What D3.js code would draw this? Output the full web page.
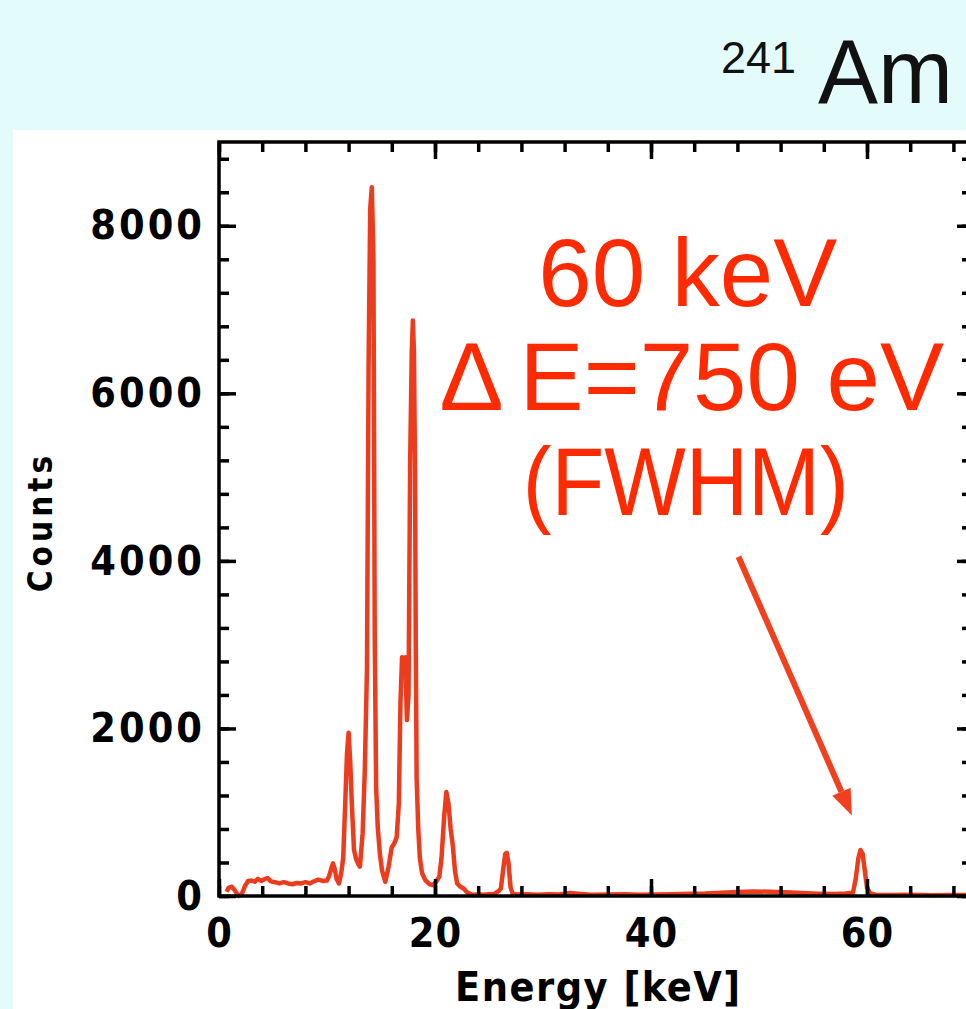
<!DOCTYPE html>
<html>
<head>
<meta charset="utf-8">
<script src="https://cdn.jsdelivr.net/npm/d3@7"></script>
<style>
  body { margin: 0; background: #e4fbfc; }
  .lab { font-family: "DejaVu Sans Condensed", "DejaVu Sans", sans-serif; font-weight: bold; font-stretch: condensed; fill: #000; }
  .note { font-family: "Liberation Sans", Arial, sans-serif; fill: #ff2a00; }
</style>
</head>
<body>
<div id="chart"></div>
<script>
// 241Am spectrum
var energy = [0.7, 0.9, 1.2, 1.5, 1.8, 2.1, 2.4, 2.7, 3.0, 3.3, 3.6, 3.9, 4.2, 4.5, 4.8, 5.2, 5.6, 6.0, 6.4, 6.8,
  7.2, 7.6, 8.0, 8.4, 8.8, 9.2, 9.6, 10.0, 10.2, 10.4, 10.55, 10.7, 10.9, 11.1, 11.3, 11.5, 11.7, 11.85, 12.0, 12.15,
  12.3, 12.5, 12.7, 12.9, 13.05, 13.3, 13.5, 13.7, 13.85, 14.0, 14.15, 14.3, 14.42, 14.55, 14.7, 14.9, 15.1, 15.4, 15.7, 16.0,
  16.2, 16.45, 16.65, 16.8, 16.95, 17.1, 17.25, 17.4, 17.55, 17.7, 17.85, 17.95, 18.05, 18.15, 18.22, 18.3, 18.45, 18.6, 18.8, 19.1,
  19.5, 19.8, 20.1, 20.4, 20.6, 20.85, 21.05, 21.25, 21.45, 21.65, 21.85, 22.05, 22.35, 22.65, 23.0, 23.5, 24.0, 24.5, 25.0, 25.5,
  25.9, 26.1, 26.3, 26.5, 26.65, 26.8, 27.0, 27.2, 27.6, 28.5, 29.5, 30.5, 31.5, 32.5, 33.5, 34.5, 36.0, 37.5, 39.0, 40.5,
  42.0, 43.5, 45.0, 46.5, 48.0, 49.5, 51.0, 52.5, 54.0, 55.5, 57.0, 58.0, 58.7, 58.95, 59.2, 59.4, 59.6, 59.8, 60.0, 60.3,
  60.8, 62.0, 64.0, 66.0, 68.0, 70.0];
var counts = [50, 100, 110, 60, 0, 20, 120, 180, 185, 170, 205, 180, 200, 215, 175, 165, 150, 165, 150, 140,
  155, 150, 165, 150, 175, 195, 180, 185, 240, 330, 390, 330, 200, 150, 260, 450, 1150, 1700, 1950, 1600,
  1100, 550, 440, 380, 350, 750, 1500, 2700, 6300, 8200, 8460, 7600, 3100, 1300, 820, 500, 300, 170, 350, 585,
  620, 700, 1100, 2300, 2850, 2700, 2850, 2100, 2400, 5200, 6500, 6870, 6500, 5100, 3000, 1400, 800, 450, 275, 190,
  140, 130, 170, 230, 450, 950, 1240, 1100, 800, 600, 300, 150, 110, 90, 40, 12, 20, 15, 22, 25,
  60, 90, 300, 500, 515, 400, 100, 25, 18, 20, 15, 22, 18, 35, 25, 15, 18, 20, 15, 18,
  22, 28, 30, 40, 48, 55, 50, 45, 35, 28, 25, 30, 40, 200, 450, 550, 500, 300, 100, 30,
  15, 12, 15, 10, 12, 10];

var xMajor = [0, 20, 40, 60];
var yMajor = [0, 2000, 4000, 6000, 8000];
var xMinor = d3.range(0, 71, 4);
var yMinor = d3.range(0, 9001, 400);

var W = 966, H = 1009;
var plotL = 219, plotR = 975, plotT = 142, plotB = 896;

var svg = d3.select("#chart").append("svg")
    .attr("width", W)
    .attr("height", H)
    .style("display", "block");

svg.append("rect").attr("width", W).attr("height", H).attr("fill", "#e4fbfc");
svg.append("rect").attr("x", 13).attr("y", 130).attr("width", W).attr("height", H).attr("fill", "#fff");

var x = d3.scaleLinear().domain([0, 70]).range([plotL, plotR]);
var y = d3.scaleLinear().domain([0, 9000]).range([plotB, plotT]);

// title
var title = svg.append("text").attr("x", 721).attr("y", 103)
    .style("font-family", "'Liberation Sans', Arial, sans-serif").attr("fill", "#111");
title.append("tspan").attr("y", 73).style("font-size", "45px").text("241");
title.append("tspan").attr("dx", 22).attr("y", 103).style("font-size", "90px").text("Am");

// spectrum
var line = d3.line()
    .x((d, i) => x(energy[i]))
    .y((d, i) => y(counts[i]));

svg.append("path")
    .datum(counts)
    .attr("d", line)
    .attr("fill", "none")
    .attr("stroke", "#ec3c1e")
    .attr("stroke-width", 4.5)
    .attr("stroke-linejoin", "round");

// axes, ticks inward on all four sides
function styleAxis(g) {
  g.select(".domain").remove();
  g.selectAll(".tick line").attr("stroke", "#000").attr("stroke-width", 3.5);
  g.selectAll("text").attr("class", "lab").style("font-size", "41px").style("letter-spacing", "1px");
}

svg.append("g").attr("transform", "translate(0," + plotB + ")")
  .call(d3.axisBottom(x).tickValues(xMinor).tickSize(-10).tickFormat(""))
  .call(styleAxis);
svg.append("g").attr("transform", "translate(0," + plotB + ")")
  .call(d3.axisBottom(x).tickValues(xMajor).tickSize(-17).tickPadding(22).tickFormat(d3.format("d")))
  .call(styleAxis);
svg.append("g").attr("transform", "translate(0," + plotT + ")")
  .call(d3.axisTop(x).tickValues(xMinor).tickSize(-10).tickFormat(""))
  .call(styleAxis);
svg.append("g").attr("transform", "translate(0," + plotT + ")")
  .call(d3.axisTop(x).tickValues(xMajor).tickSize(-17).tickFormat(""))
  .call(styleAxis);

svg.append("g").attr("transform", "translate(" + plotL + ",0)")
  .call(d3.axisLeft(y).tickValues(yMinor).tickSize(-10).tickFormat(""))
  .call(styleAxis);
svg.append("g").attr("transform", "translate(" + plotL + ",0)")
  .call(d3.axisLeft(y).tickValues(yMajor).tickSize(-17).tickPadding(14).tickFormat(d3.format("d")))
  .call(styleAxis)
  .call(g => g.selectAll("text").style("letter-spacing", "3px"));
svg.append("g").attr("transform", "translate(" + plotR + ",0)")
  .call(d3.axisRight(y).tickValues(yMinor).tickSize(-13).tickFormat(""))
  .call(styleAxis);
svg.append("g").attr("transform", "translate(" + plotR + ",0)")
  .call(d3.axisRight(y).tickValues(yMajor).tickSize(-18).tickFormat(""))
  .call(styleAxis);

svg.append("rect")
    .attr("x", plotL).attr("y", plotT)
    .attr("width", plotR - plotL).attr("height", plotB - plotT)
    .attr("fill", "none").attr("stroke", "#000").attr("stroke-width", 3.5);

// axis titles
svg.append("text").attr("class", "lab")
    .attr("x", 455).attr("y", 1001)
    .style("font-size", "41px").style("letter-spacing", "1.5px")
    .text("Energy [keV]");

svg.append("text").attr("class", "lab")
    .attr("transform", "translate(52,522) rotate(-90)")
    .attr("text-anchor", "middle")
    .style("font-size", "33px").style("letter-spacing", "4px")
    .text("Counts");

// annotation
var noteX = x(43.4);
var note = svg.append("g").attr("class", "note").style("font-size", "96px").attr("text-anchor", "middle");
note.append("text").attr("x", noteX).attr("y", y(7045)).text("60 keV");
var l2 = note.append("text").attr("x", noteX + 4).attr("y", y(5800));
l2.append("tspan").text("\u0394");
l2.append("tspan").attr("dx", 16).text("E=750 eV");
note.append("text").attr("x", noteX - 2).attr("y", y(4550))
    .attr("textLength", 326).attr("lengthAdjust", "spacingAndGlyphs")
    .text("(FWHM)");

var a0 = [x(48.1), y(4050)], a1 = [x(58.6), y(960)];
var ang = Math.atan2(a1[1] - a0[1], a1[0] - a0[0]);
var headLen = 26, headW = 10;
var base = [a1[0] - headLen * Math.cos(ang), a1[1] - headLen * Math.sin(ang)];
svg.append("line")
    .attr("x1", a0[0]).attr("y1", a0[1])
    .attr("x2", base[0]).attr("y2", base[1])
    .attr("stroke", "#f0401e").attr("stroke-width", 6);
svg.append("path")
    .attr("d", "M" + a1[0] + "," + a1[1] +
      "L" + (base[0] + headW * Math.sin(ang)) + "," + (base[1] - headW * Math.cos(ang)) +
      "L" + (base[0] - headW * Math.sin(ang)) + "," + (base[1] + headW * Math.cos(ang)) + "Z")
    .attr("fill", "#f0401e");
</script>
</body>
</html>
